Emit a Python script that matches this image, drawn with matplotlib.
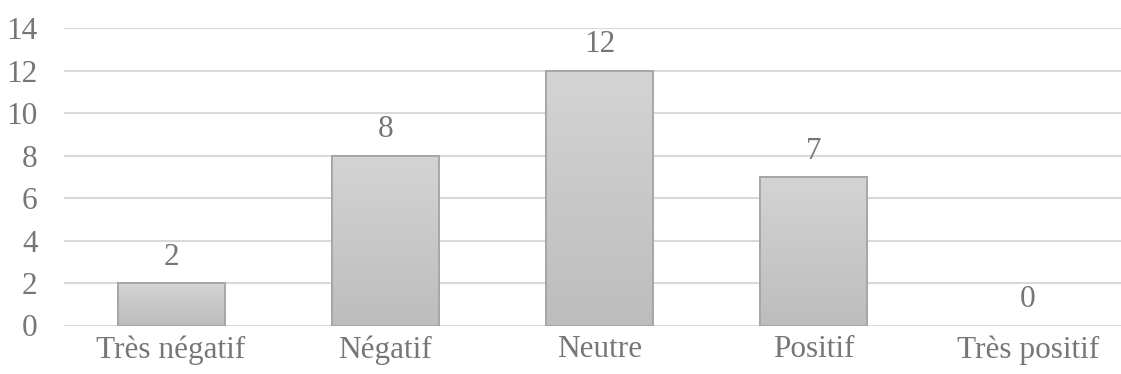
import numpy as np
import matplotlib
matplotlib.use("Agg")
import matplotlib.pyplot as plt
from matplotlib.colors import LinearSegmentedColormap

# data
categories = ['Très négatif', 'Négatif', 'Neutre', 'Positif', 'Très positif']
counts = [2, 8, 12, 7, 0]
y_ticks = [0, 2, 4, 6, 8, 10, 12, 14]

text_color = '#767676'
grid_color = '#d9d9d9'
fsize = 22.5

plt.rcParams['font.family'] = ['Liberation Serif', 'DejaVu Serif']

fig = plt.figure(figsize=(11.21, 3.74), dpi=100)
# plot area runs past the right edge like in the cropped original
ax = fig.add_axes([64 / 1121, 48.5 / 374, 1071 / 1121, 297.5 / 374])

x = np.arange(len(categories))
bars = ax.bar(x, counts, width=0.5, color='#c8c8c8', edgecolor='#a5a5a5',
              linewidth=1.3, zorder=3)

# vertical grey gradient inside every bar
cmap = LinearSegmentedColormap.from_list('bar_grad', ['#d4d4d4', '#bdbdbd'])
grad = np.linspace(0, 1, 256).reshape(-1, 1)
for rect in bars:
    h = rect.get_height()
    if h <= 0:
        rect.set_edgecolor('none')
        continue
    x0 = rect.get_x()
    w = rect.get_width()
    im = ax.imshow(grad, cmap=cmap, aspect='auto', extent=[x0, x0 + w, 0, h],
                   origin='upper', zorder=3.5)
    im.set_clip_path(rect)

# outline on top of gradient
for rect in bars:
    if rect.get_height() > 0:
        ax.add_patch(plt.Rectangle(rect.get_xy(), rect.get_width(), rect.get_height(),
                                   fill=False, edgecolor='#a5a5a5', linewidth=1.3,
                                   zorder=4))

for xi, v in zip(x, counts):
    ax.annotate(str(v), (xi, v), xytext=(0, 8), textcoords='offset points',
                ha='center', va='bottom', fontsize=fsize, color=text_color)

ax.set_xlim(-0.5, len(categories) - 0.5)
ax.set_ylim(0, 14)
ax.set_yticks(y_ticks)
ax.set_xticks(x)
ax.set_xticklabels(categories)
ax.tick_params(axis='both', length=0, labelsize=fsize, labelcolor=text_color)
ax.tick_params(axis='y', pad=19)
ax.tick_params(axis='x', pad=7)

ax.yaxis.grid(True, color=grid_color, linewidth=1.5, zorder=0)
ax.set_axisbelow(True)
for s in ax.spines.values():
    s.set_visible(False)

fig.savefig('out.png', dpi=100)
